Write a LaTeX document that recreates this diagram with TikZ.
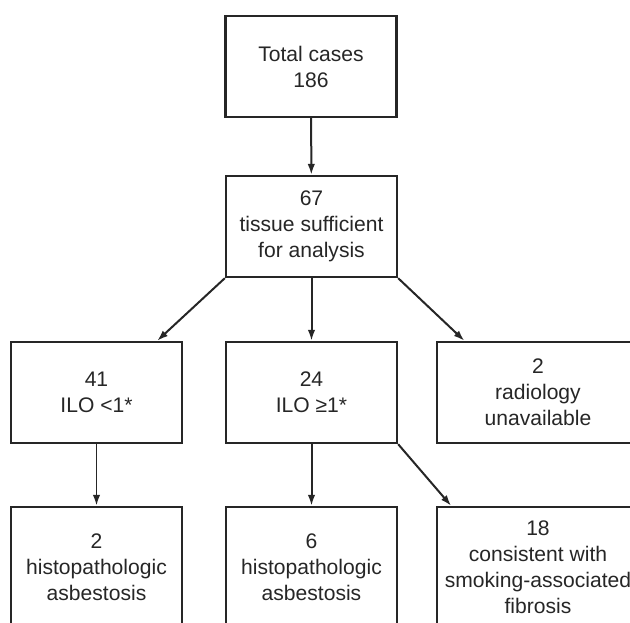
\documentclass[tikz,border=0pt]{standalone}
\usepackage{fontspec}
\setmainfont{Liberation Sans}
\usepackage{tikz}
\usetikzlibrary{arrows,arrows.meta,calc,positioning}
\tikzset{>={Latex[length=6.2pt,width=4.2pt]}}
\tikzset{box/.style={draw=black!85, line width=0.47mm, align=center, inner sep=0pt,
  minimum width=3.42cm, minimum height=2.02cm, text=black!85,
  font=\fontsize{12}{14.8}\selectfont}}
\tikzset{wide/.style={box, minimum width=4.04cm}}
\tikzset{tall/.style={minimum height=2.4cm}}

\begin{document}
\begin{tikzpicture}[x=0.02cm, y=-0.02cm]
\useasboundingbox (0,0) rectangle (630,623);
\node[box] (b1) at (311,66.5) {Total cases\\186};
\node[box] (b2) at (311.5,226.5) {67\\tissue sufficient\\for analysis};
\node[box] (b3) at (96.5,392.5) {41\\ILO <1*};
\node[box] (b4) at (311.5,392.5) {24\\ILO ≥1*};
\node[wide] (b5) at (538,392.5) {2\\radiology\\unavailable};
\node[box, tall] (b6) at (96.5,567) {2\\histopathologic\\asbestosis};
\node[box, tall] (b7) at (311.5,567) {6\\histopathologic\\asbestosis};
\node[wide, tall] (b8) at (538,567) {18\\consistent with\\smoking-associated\\fibrosis};
\draw[->, line width=0.4mm, black!85] (b1) -- (b2);
\draw[->, line width=0.4mm, black!85] (b2.south west) -- ($(b3.north east)!0.15!(b3.north west)$);
\draw[->, line width=0.4mm, black!85] (b2) -- (b4);
\draw[->, line width=0.4mm, black!85] (b2.south east) -- ($(b5.north west)!0.14!(b5.north east)$);
\draw[->, line width=0.4mm, black!85] (b3) -- (b6);
\draw[->, line width=0.4mm, black!85] (b4) -- (b7);
\draw[->, line width=0.4mm, black!85] (b4.south east) -- ($(b8.north west)!0.075!(b8.north east)$);
\end{tikzpicture}
\end{document}
